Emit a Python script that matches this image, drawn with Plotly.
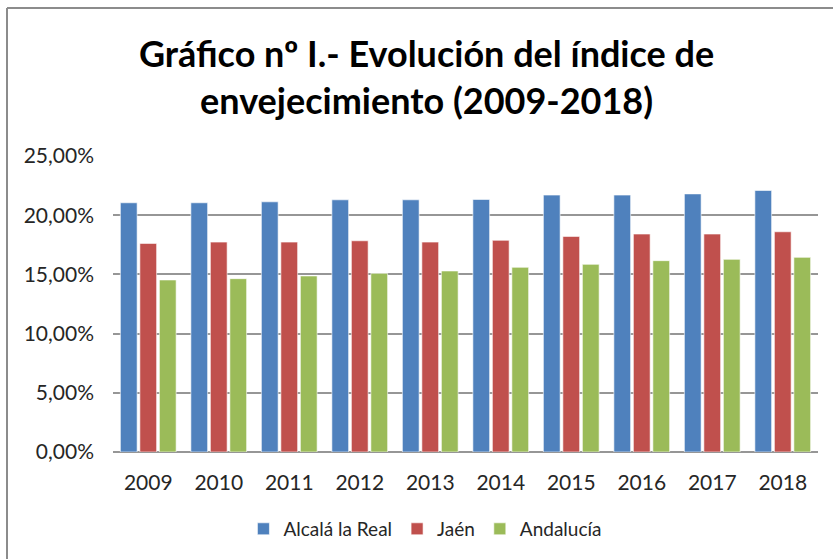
import plotly.graph_objects as go

years = ["2009", "2010", "2011", "2012", "2013", "2014", "2015", "2016", "2017", "2018"]
alcala = [21.05, 21.05, 21.13, 21.30, 21.30, 21.33, 21.70, 21.70, 21.80, 22.09]
jaen = [17.62, 17.73, 17.73, 17.84, 17.73, 17.88, 18.21, 18.41, 18.41, 18.60]
andalucia = [14.53, 14.64, 14.87, 15.09, 15.29, 15.60, 15.85, 16.16, 16.27, 16.44]
series_names = ["Alcalá la Real", "Jaén", "Andalucía"]
colors = ["#4F81BD", "#C0504D", "#9BBB59"]
title_lines = ["Gráfico nº I.- Evolución del índice de", "envejecimiento (2009-2018)"]
y_ticks = [0, 5, 10, 15, 20, 25]

FONT = "Lato"
W, H = 833, 559
L, R, T, B = 113, 15, 156, 107
PW, PH = W - L - R, H - T - B

fig = go.Figure()
for name, vals, col in zip(series_names, [alcala, jaen, andalucia], colors):
    fig.add_trace(go.Bar(
        x=years, y=vals, name=name,
        marker=dict(color=col, line=dict(color="rgba(255,255,255,0.6)", width=1)),
    ))

fig.update_layout(
    width=W, height=H,
    margin=dict(l=L, r=R, t=T, b=B, pad=0, autoexpand=False),
    paper_bgcolor="white", plot_bgcolor="white",
    barmode="group", bargap=0.17, bargroupgap=0.14,
    font=dict(family=FONT, color="#262626"),
    showlegend=True,
    legend=dict(orientation="h", x=0.185, xanchor="left", y=-0.26, yanchor="middle",
                font=dict(size=19, family=FONT, color="#262626"),
                itemwidth=30, traceorder="normal"),
    xaxis=dict(type="category", showgrid=False, showline=False, ticks="",
               ticklabelstandoff=16,
               tickfont=dict(size=21, family=FONT, color="#262626")),
    yaxis=dict(range=[0, 25], tickvals=y_ticks,
               ticktext=[f"{v:.2f}".replace(".", ",") + "%" for v in y_ticks],
               showgrid=True, gridcolor="#969696", gridwidth=1.5,
               zeroline=True, zerolinecolor="#969696", zerolinewidth=1.5,
               showline=False, ticks="", ticklabelstandoff=18,
               tickfont=dict(size=21, family=FONT, color="#262626")),
)

fig.add_annotation(text="<br>".join(f"<b>{t}</b>" for t in title_lines),
                   xref="paper", yref="paper",
                   x=(426 - L) / PW, y=(H - B - 76) / PH,
                   xanchor="center", yanchor="middle", align="center", showarrow=False,
                   font=dict(size=36, family=FONT, color="black"))

# chart-area border (left and top edges visible)
x0 = (7 - L) / PW
y_top = (H - B - 8) / PH
y_bot = (H - B - 575) / PH
x_right = (850 - L) / PW
fig.add_shape(type="line", xref="paper", yref="paper", x0=x0, x1=x0, y0=y_bot, y1=y_top,
              line=dict(color="#8c8c8c", width=2))
fig.add_shape(type="line", xref="paper", yref="paper", x0=x0, x1=x_right, y0=y_top, y1=y_top,
              line=dict(color="#8c8c8c", width=2))

fig.write_html("out.html", config={"displayModeBar": False},
               post_script="document.body.style.margin='0';document.body.style.overflow='hidden';")
